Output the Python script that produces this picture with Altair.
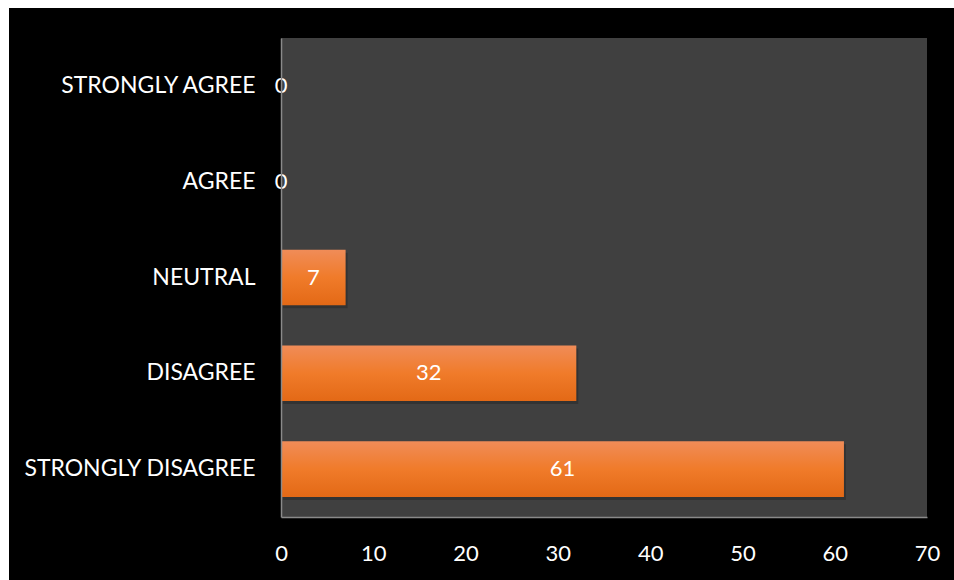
import altair as alt
import pandas as pd

categories = ["STRONGLY AGREE", "AGREE", "NEUTRAL", "DISAGREE", "STRONGLY DISAGREE"]
values = [0, 0, 7, 32, 61]
x_ticks = [0, 10, 20, 30, 40, 50, 60, 70]

W, H = 646, 479
PAD_L, PAD_T, PAD_R, PAD_B = 281, 38, 27, 63
FONT = "Lato"

df = pd.DataFrame({"category": categories, "value": values})
df["half"] = df["value"] / 2

one = alt.Data(values=[{}])

outer = alt.Chart(one).mark_rect(color="black").encode(
    x=alt.value(-(PAD_L - 9)), x2=alt.value(W + PAD_R),
    y=alt.value(-(PAD_T - 8)), y2=alt.value(H + PAD_B),
)
inner = alt.Chart(one).mark_rect(color="#404040").encode(
    x=alt.value(0), x2=alt.value(W), y=alt.value(0), y2=alt.value(H),
)

xs = alt.X("value:Q", scale=alt.Scale(domain=[0, 70], nice=False),
           axis=alt.Axis(values=x_ticks, title=None, grid=False, ticks=False,
                         labelColor="white", labelFontSize=22, labelFont=FONT,
                         labelPadding=26, domainColor="#8a8a8a", domainWidth=1.5,
                         zindex=1, labelFlush=False))
ys = alt.Y("category:N", sort=categories, scale=alt.Scale(paddingInner=0.42, paddingOuter=0.21),
           axis=alt.Axis(title=None, grid=False, ticks=False, labelColor="white",
                         labelFontSize=23, labelFont=FONT, labelPadding=26,
                         domainColor="#8a8a8a", domainWidth=1.5, zindex=1, labelLimit=300))

base = alt.Chart(df)

shadow = base.mark_bar(color="black", opacity=0.2, xOffset=2, yOffset=3).encode(x=xs, y=ys)

bars = base.mark_bar(
    color=alt.Gradient(
        gradient="linear", x1=0, x2=0, y1=0, y2=1,
        stops=[alt.GradientStop(color="#F08C58", offset=0),
               alt.GradientStop(color="#F07B2A", offset=0.5),
               alt.GradientStop(color="#E36916", offset=1)],
    )
).encode(x=xs, y=ys)

labels = base.mark_text(color="white", fontSize=22, font=FONT, align="center", baseline="middle").encode(
    x=alt.X("half:Q", scale=alt.Scale(domain=[0, 70], nice=False)),
    y=alt.Y("category:N", sort=categories),
    text=alt.Text("value:Q"),
)

chart = alt.layer(outer, inner, shadow, bars, labels).properties(
    width=W, height=H,
    background="white",
    padding={"left": PAD_L, "top": PAD_T, "right": PAD_R, "bottom": PAD_B},
    autosize=alt.AutoSizeParams(type="none"),
).configure_view(stroke=None)

chart.save("out.html", embed_options={"renderer": "svg", "actions": False})
